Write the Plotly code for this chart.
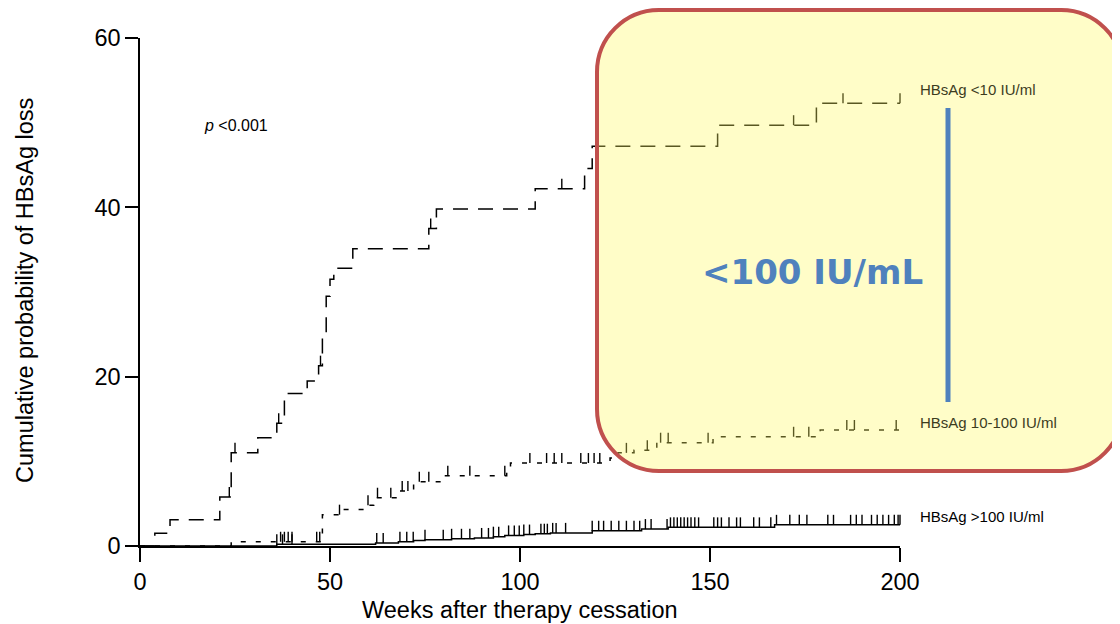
import plotly.graph_objects as go

# ---------------- data ----------------
# HBsAg <10 IU/ml  (long dashes)
low_weeks = [0, 3.9, 7.9, 21, 24, 31, 36, 38, 44, 47, 48, 49, 50, 51, 56, 76, 78, 104, 117, 119, 152, 178]
low_vals = [0, 1.5, 3.1, 5.8, 11.0, 12.8, 14.5, 18.0, 19.5, 21.3, 25.0, 29.5, 31.5, 32.8, 35.1, 37.5, 39.8,
            42.2, 44.6, 47.2, 49.7, 52.3]
low_cens = [23.5, 25, 36.5, 47.5, 76.5, 111, 172, 185, 200]

# HBsAg 10-100 IU/ml  (short dashes)
mid_weeks = [0, 24, 48, 53, 59.7, 61.5, 68, 72, 79.5, 96.5, 97.5, 123.7, 125.8, 130, 136, 150.8, 179]
mid_vals = [0, 0.5, 3.7, 4.3, 4.8, 5.7, 6.5, 7.6, 8.3, 9.0, 9.8, 10.4, 11.0, 11.3, 12.2, 12.9, 13.7]
mid_cens = [37, 38, 39, 40, 46.5, 47.3, 52.5, 60, 62.5, 66, 69, 70.5, 73.5, 76, 81, 86.8, 96, 102.6, 107,
            109, 111, 116, 118, 119.5, 121, 128, 133.5, 137, 139, 149.5, 172, 176, 186, 188, 199]

# HBsAg >100 IU/ml  (solid)
high_weeks = [0, 36, 62, 68, 72, 75, 82, 88, 93, 96, 101, 104, 108, 119, 132, 139, 167]
high_vals = [0, 0.2, 0.35, 0.5, 0.65, 0.75, 0.85, 0.95, 1.1, 1.25, 1.35, 1.45, 1.55, 1.8, 2.0, 2.2, 2.5]
high_cens = [36, 37.5, 40, 62.3, 64, 68.4, 70.2, 71.9, 75, 79.8, 82, 84.6, 86.8, 89.9, 91.7, 93, 94.4, 97,
             98.5, 99.8, 101, 102.5, 105.5, 106.4, 107.2, 108.6, 109.5, 112, 119, 120.7, 122, 124, 126, 128,
             130, 131.5, 133, 134.5, 138.7, 139.6, 140.5, 141.4, 142.3, 143.2, 144.1, 145, 146, 147, 151, 152,
             153, 155, 157, 158, 161.5, 163, 166, 167.5, 171, 173.5, 175.5, 181, 182.5, 187, 188.5, 190, 192.5,
             194, 195.5, 197, 198.5, 199.5, 200]

x_ticks = [0, 50, 100, 150, 200]
y_ticks = [0, 20, 40, 60]
group_labels = ["HBsAg &lt;10 IU/ml", "HBsAg 10-100 IU/ml", "HBsAg &gt;100 IU/ml"]
X_MAX = 200
Y_MAX = 60

# ---------------- layout geometry ----------------
OFF = 8  # page body margin
W, H = 1112, 616
ML, MR, MT, MB = 132, 220, 30, 78
PW, PH = W - ML - MR, H - MT - MB
px_per_y = PH / Y_MAX
TICK_PX = 10  # length of censor tick in px


def step_value(weeks, vals, t):
    v = vals[0]
    for w, val in zip(weeks, vals):
        if w <= t:
            v = val
    return v


def px2paper(px, py):
    """screen pixel -> paper coords"""
    return (px - OFF - ML) / PW, (H - MB - (py - OFF)) / PH


fig = go.Figure()

styles = [
    (low_weeks, low_vals, low_cens, "15px,10px"),
    (mid_weeks, mid_vals, mid_cens, "5px,10px"),
    (high_weeks, high_vals, high_cens, "solid"),
]

for weeks, vals, cens, dash in styles:
    xs = list(weeks) + [X_MAX]
    ys = list(vals) + [vals[-1]]
    fig.add_trace(go.Scatter(x=xs, y=ys, mode="lines", line=dict(shape="hv", color="black", width=1.5, dash=dash),
                             showlegend=False, hoverinfo="skip"))
    cy = [step_value(weeks, vals, t) + (TICK_PX / 2) / px_per_y for t in cens]
    fig.add_trace(go.Scatter(x=cens, y=cy, mode="markers", cliponaxis=False,
                             marker=dict(symbol="line-ns", size=TICK_PX / 1.4, color="black",
                                         line=dict(color="black", width=1.4)),
                             showlegend=False, hoverinfo="skip"))

# ---------------- highlight box ----------------
L, T, R, B, RAD = 597, 10, 1123, 471, 62
K = 0.5523 * RAD


def P(px, py):
    x, y = px2paper(px, py)
    return f"{x:.5f},{y:.5f}"


path = (f"M {P(L + RAD, T)} L {P(R - RAD, T)} "
        f"C {P(R - RAD + K, T)} {P(R, T + RAD - K)} {P(R, T + RAD)} "
        f"L {P(R, B - RAD)} "
        f"C {P(R, B - RAD + K)} {P(R - RAD + K, B)} {P(R - RAD, B)} "
        f"L {P(L + RAD, B)} "
        f"C {P(L + RAD - K, B)} {P(L, B - RAD + K)} {P(L, B - RAD)} "
        f"L {P(L, T + RAD)} "
        f"C {P(L, T + RAD - K)} {P(L + RAD - K, T)} {P(L + RAD, T)} Z")

shapes = [
    dict(type="path", xref="paper", yref="paper", path=path, layer="above",
         fillcolor="rgba(255,249,97,0.35)", line=dict(color="#C0504D", width=4)),
]
bx0, by0 = px2paper(948, 108)
bx1, by1 = px2paper(948, 402)
shapes.append(dict(type="line", xref="paper", yref="paper", x0=bx0, y0=by0, x1=bx1, y1=by1, layer="above",
                   line=dict(color="#4F81BD", width=5)))

FONT = "Arial, Liberation Sans, sans-serif"
annotations = []
label_pos = [(918, 89), (918, 422), (918, 516)]
label_colors = ["#3c3c1e", "#3c3c1e", "black"]
for txt, (lx, ly), col in zip(group_labels, label_pos, label_colors):
    ax_, ay_ = px2paper(lx, ly)
    annotations.append(dict(x=ax_, y=ay_, xref="paper", yref="paper", text=txt, showarrow=False, xanchor="left",
                            yanchor="middle", font=dict(family=FONT, size=15, color=col)))

px_, py_ = px2paper(202, 125)
annotations.append(dict(x=px_, y=py_, xref="paper", yref="paper", text="<i>p</i> &lt;0.001", showarrow=False,
                        xanchor="left", yanchor="middle", font=dict(family=FONT, size=16, color="black")))

tx, ty = px2paper(812, 272)
annotations.append(dict(x=tx, y=ty, xref="paper", yref="paper", text="<b>&lt;100 IU/mL</b>", showarrow=False,
                        xanchor="center", yanchor="middle",
                        font=dict(family="DejaVu Sans, sans-serif", size=34, color="#4F81BD")))

annotations.append(dict(x=0.5, y=0, xref="paper", yref="paper", text="Weeks after therapy cessation",
                        showarrow=False, xanchor="center", yanchor="middle", yshift=-64,
                        font=dict(family=FONT, size=23.5, color="black")))
annotations.append(dict(x=0, y=0.502, xref="paper", yref="paper", text="Cumulative probability of HBsAg loss",
                        showarrow=False, xanchor="center", yanchor="middle", xshift=-115, textangle=-90,
                        font=dict(family=FONT, size=23.5, color="black")))

fig.update_layout(
    width=W, height=H,
    margin=dict(l=ML, r=MR, t=MT, b=MB, pad=0),
    paper_bgcolor="white", plot_bgcolor="white",
    font=dict(family=FONT, size=23, color="black"),
    shapes=shapes, annotations=annotations,
    xaxis=dict(range=[0, X_MAX], tickvals=x_ticks, ticks="outside", ticklen=14, tickwidth=1.5,
               tickcolor="black", showline=True, linecolor="black", linewidth=1.5, showgrid=False,
               zeroline=False, tickfont=dict(size=23.5)),
    yaxis=dict(range=[0, Y_MAX], tickvals=y_ticks, ticks="outside", ticklen=13, tickwidth=1.5,
               tickcolor="black", showline=True, linecolor="black", linewidth=1.5, showgrid=False,
               zeroline=False, tickfont=dict(size=23.5)),
)

fig.write_html("out.html")
